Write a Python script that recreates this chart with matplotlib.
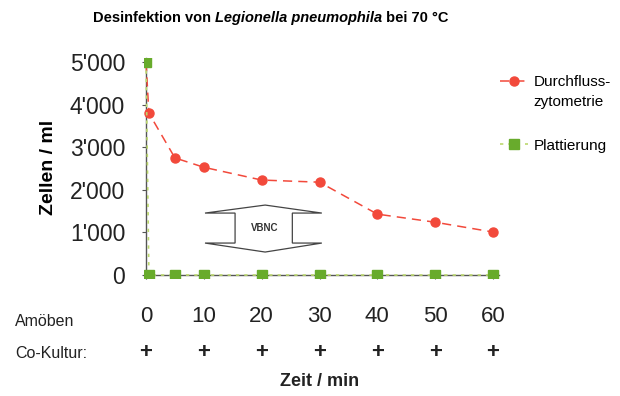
import numpy as np
import matplotlib
matplotlib.use('Agg')
import matplotlib.pyplot as plt
from matplotlib.patches import Polygon
from matplotlib.ticker import FuncFormatter
import matplotlib.transforms as mtransforms

plt.rcParams['font.family'] = ['Liberation Sans', 'DejaVu Sans']

# Daten
zeit_fc = [0, 0.5, 5, 10, 20, 30, 40, 50, 60]
zellen_fc = [5000, 3800, 2750, 2530, 2230, 2180, 1430, 1240, 1010]
zeit_pl = [0, 0.5, 5, 10, 20, 30, 40, 50, 60]
zellen_pl = [5000, 0, 0, 0, 0, 0, 0, 0, 0]
xticks = [0, 10, 20, 30, 40, 50, 60]
yticks = [0, 1000, 2000, 3000, 4000, 5000]
ko_kultur = ['+', '+', '+', '+', '+', '+', '+']

rot = '#f2493b'
gruen = '#68ab2c'
hellgruen = '#bcd86e'

fig = plt.figure(figsize=(6.2, 3.96), dpi=100)
ax = fig.add_axes([0.2327, 0.299, 0.5718, 0.555])

ax.plot(zeit_fc, zellen_fc, color=rot, ls=(0, (6, 4)), lw=1.1,
        marker='o', ms=6.5, label='Durchfluss-', zorder=3)
ax.plot(zeit_pl, zellen_pl, color=hellgruen, ls=(0, (2, 3)), lw=1.2,
        marker='s', ms=6.5, mfc=gruen, mec=gruen, label='Plattierung', zorder=4)

ax.set_xlim(-0.3, 61)
ax.set_ylim(-60, 5100)
ax.set_xticks(xticks)
ax.set_yticks(yticks)
ax.yaxis.set_major_formatter(FuncFormatter(lambda v, p: f"{int(v):,}".replace(',', "'")))

for s in ['top', 'right']:
    ax.spines[s].set_visible(False)
ax.spines['bottom'].set_position(('data', 0))
ax.spines['left'].set_position(('data', 0))
for s in ['left', 'bottom']:
    ax.spines[s].set_color('#555555')
    ax.spines[s].set_linewidth(1.0)
ax.tick_params(axis='y', direction='out', length=3, color='#555555', pad=12,
               labelsize=16.5, labelcolor='#222222')
ax.tick_params(axis='x', direction='out', length=3, color='#555555', pad=19,
               labelsize=16, labelcolor='#222222')

ax.set_ylabel('Zellen / ml', fontsize=14, fontweight='bold', labelpad=9)

# VBNC Doppelpfeil
pfeil = [(10.2, 1455), (20.6, 1643), (30.4, 1455), (25.3, 1455), (25.3, 751),
         (30.4, 751), (20.6, 540), (10.2, 751), (15.4, 751), (15.4, 1455)]
ax.add_patch(Polygon(pfeil, closed=True, fc='white', ec='#444444', lw=0.9, zorder=2))
ax.text(20.6, 1100, 'VBNC', ha='center', va='center', fontsize=7, fontweight='bold',
        color='#333333')

# Legende
ax.legend(loc='upper left', bbox_to_anchor=(500 / 620, 1 - 75 / 396),
          bbox_transform=fig.transFigure, frameon=False, fontsize=11,
          borderpad=0, borderaxespad=0, handlelength=1.85, handletextpad=0.33,
          labelspacing=3.25)
fig.text(533 / 620, 1 - 102 / 396, 'zytometrie', fontsize=11, va='center')

# Titel (gemischt fett / kursiv)
t1 = fig.text(93 / 620, 1 - 22 / 396, 'Desinfektion von ', fontsize=10.5, fontweight='bold')
t2 = ax.annotate('Legionella pneumophila', xy=(1, 0), xycoords=t1, va='bottom',
                 fontsize=10.5, fontweight='bold', fontstyle='italic')
ax.annotate(' bei 70 °C', xy=(1, 0), xycoords=t2, va='bottom',
            fontsize=10.5, fontweight='bold')

# Zeilen unter der Achse
fig.text(15 / 620, 1 - 321 / 396, 'Amöben', fontsize=11.5, va='center', color='#222222')
fig.text(15 / 620, 1 - 354 / 396, 'Co-Kultur:', fontsize=11.5, va='center', color='#222222')
trans = mtransforms.blended_transform_factory(ax.transData, fig.transFigure)
for x, s in zip(xticks, ko_kultur):
    ax.text(x, 1 - 352 / 396, s, transform=trans, ha='center', va='center',
            fontsize=16, fontweight='bold', color='#222222')
ax.text(30, 1 - 381 / 396, 'Zeit / min', transform=trans, ha='center', va='center',
        fontsize=13, fontweight='bold', color='#222222')

fig.savefig('out.png', dpi=100)
